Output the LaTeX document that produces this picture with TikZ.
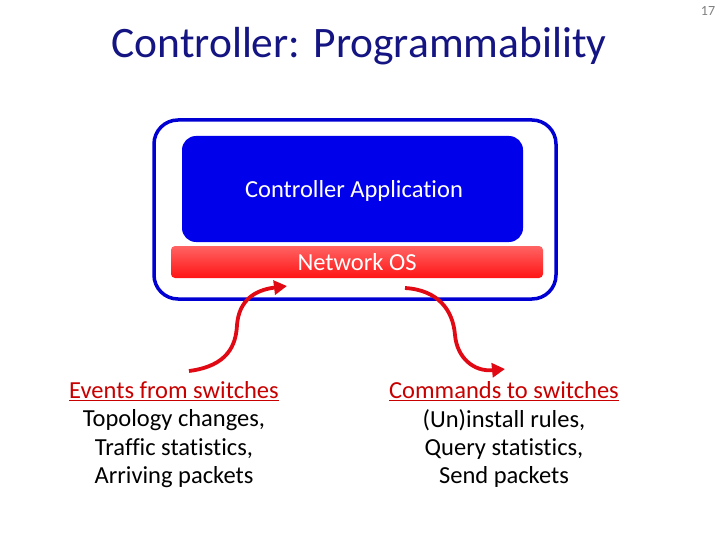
\documentclass[tikz,border=0pt]{standalone}
\usepackage{fontspec}
\setmainfont{Carlito}[Ligatures=NoCommon]
\usetikzlibrary{arrows.meta,shadings}
\definecolor{titleblue}{RGB}{20,20,130}
\definecolor{boxblue}{RGB}{0,0,235}
\definecolor{frameblue}{RGB}{0,0,210}
\definecolor{arrowred}{RGB}{225,10,20}
\definecolor{labelred}{RGB}{200,0,0}
\definecolor{osred}{RGB}{255,20,20}
\definecolor{osredlight}{RGB}{255,100,100}
\tikzset{
  titletext/.style={font=\fontsize{43.5}{46}\selectfont, text=titleblue},
  boxtext/.style={font=\fontsize{24.5}{26}\selectfont, text=white},
  headtext/.style={font=\fontsize{24.5}{26}\selectfont, text=labelred},
  bodytext/.style={font=\fontsize{24.5}{26}\selectfont, text=black},
  flow/.style={draw=arrowred, line width=3.8pt, -{Triangle[length=13pt,width=14pt]}},
}
\begin{document}
\begin{tikzpicture}[x=1pt,y=-1pt]
\useasboundingbox (0,0) rectangle (720,540);
\node[titletext] (title) at (359,46) {Controller: Programmability};
\node[font=\fontsize{14}{16}\selectfont, text=gray] (page) at (708,11) {17};
% outer frame
\draw[frameblue, line width=3.5pt, rounded corners=24pt] (154,120) rectangle (556,299);
% controller application
\fill[boxblue, rounded corners=14pt] (182,136) rectangle (523,242);
\node[boxtext] (app) at (354,191) {Controller Application};
% network OS bar
\shade[top color=osredlight, bottom color=osred, rounded corners=4pt] (171,246) rectangle (543,278);
\node[boxtext] (os) at (357,262) {Network OS};
\coordinate (lin) at (287,286);
\coordinate (rout) at (405,288);
% left text
\node[headtext] (evt) at (174,391) {\underline{Events from switches}};
\node[bodytext] (l1) at (174,420) {Topology changes,};
\node[bodytext] (l2) at (174,449) {Traffic statistics,};
\node[bodytext] (l3) at (174,477) {Arriving packets};
% right text
\node[headtext] (cmd) at (504,391) {\underline{Commands to switches}};
\node[bodytext] (r1) at (504,420) {(Un)install rules,};
\node[bodytext] (r2) at (504,449) {Query statistics,};
\node[bodytext] (r3) at (504,477) {Send packets};
\coordinate (lout) at (189,371);
\coordinate (rin) at (505,369);
% arrows
\draw[flow] (lout) .. controls (228,366) and (236,345) .. (237,325) .. controls (239,300) and (255,290) .. (lin);
\draw[flow] (rout) .. controls (438,290) and (453,310) .. (455,335) .. controls (457,358) and (474,372) .. (rin);
\end{tikzpicture}
\end{document}
